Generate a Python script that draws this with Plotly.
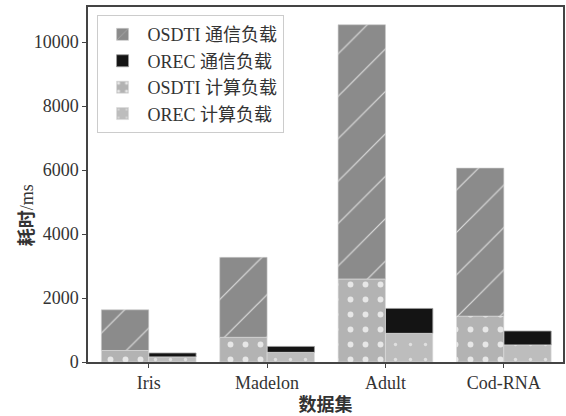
import plotly.graph_objects as go

datasets = ["Iris", "Madelon", "Adult", "Cod-RNA"]
# time in ms, split into computation and communication load
osdti_compute = [360, 770, 2590, 1430]
osdti_comm = [1270, 2500, 7950, 4630]
orec_compute = [156, 300, 894, 530]
orec_comm = [124, 186, 780, 436]
y_ticks = [0, 2000, 4000, 6000, 8000, 10000]
y_tick_text = ["0", "2000", "4000", "6000", "8000", "10000"]

pos = list(range(len(datasets)))
left = [p - 0.2 for p in pos]
right = [p + 0.2 for p in pos]

FONT = "Liberation Serif, Times New Roman, Noto Sans CJK SC"

fig = go.Figure()

fig.add_trace(go.Bar(
    name="OSDTI 通信负载", x=left, y=osdti_comm, base=osdti_compute, width=0.4,
    marker=dict(color="#8b8b8b", line=dict(color="#c8c8c8", width=0.6),
                pattern=dict(shape="/", size=30, solidity=0.04,
                             fgcolor="#e6e6e6", fgopacity=0.9)),
))
fig.add_trace(go.Bar(
    name="OREC 通信负载", x=right, y=orec_comm, base=orec_compute, width=0.4,
    marker=dict(color="#141414", line=dict(color="#9a9a9a", width=0.8)),
))
fig.add_trace(go.Bar(
    name="OSDTI 计算负载", x=left, y=osdti_compute, width=0.4,
    marker=dict(color="#b3b3b3", line=dict(color="#dcdcdc", width=0.6),
                pattern=dict(shape=".", size=15, solidity=0.12,
                             fgcolor="#f0f0f0", fgopacity=0.85)),
))
fig.add_trace(go.Bar(
    name="OREC 计算负载", x=right, y=orec_compute, width=0.4,
    marker=dict(color="#bdbdbd", line=dict(color="#dcdcdc", width=0.6),
                pattern=dict(shape=".", size=15, solidity=0.04,
                             fgcolor="#e8e8e8", fgopacity=0.8)),
))

fig.update_layout(
    width=566, height=416,
    margin=dict(l=88, r=1, t=7, b=54),
    barmode="overlay",
    plot_bgcolor="white", paper_bgcolor="white",
    font=dict(family=FONT, size=18, color="#333333"),
    showlegend=True,
    legend=dict(
        x=0.018, y=0.977, xanchor="left", yanchor="top",
        traceorder="normal",
        bgcolor="white", bordercolor="#cccccc", borderwidth=1,
        font=dict(family=FONT, size=18, color="#333333"),
        itemwidth=40, tracegroupgap=0,
    ),
    xaxis=dict(
        range=[-0.513, 3.5], tickmode="array", tickvals=pos, ticktext=datasets,
        showline=True, mirror=True, linecolor="#444444", linewidth=1.5,
        ticks="outside", ticklen=4, tickcolor="#444444", showgrid=False,
        zeroline=False,
        title=dict(text="<b>数据集</b>", font=dict(family=FONT, size=18), standoff=6),
    ),
    yaxis=dict(
        range=[0, 11095], tickmode="array", tickvals=y_ticks, ticktext=y_tick_text,
        showline=True, mirror=True, linecolor="#444444", linewidth=1.5,
        ticks="outside", ticklen=4, tickcolor="#444444", showgrid=False,
        zeroline=False,
    ),
    annotations=[dict(
        text="<b>耗时</b>/ms", textangle=-90,
        xref="paper", yref="paper", x=-0.128, y=0.414,
        xanchor="center", yanchor="middle", showarrow=False,
        font=dict(family=FONT, size=18, color="#333333"),
    )],
)

fig.write_html("out.html")
